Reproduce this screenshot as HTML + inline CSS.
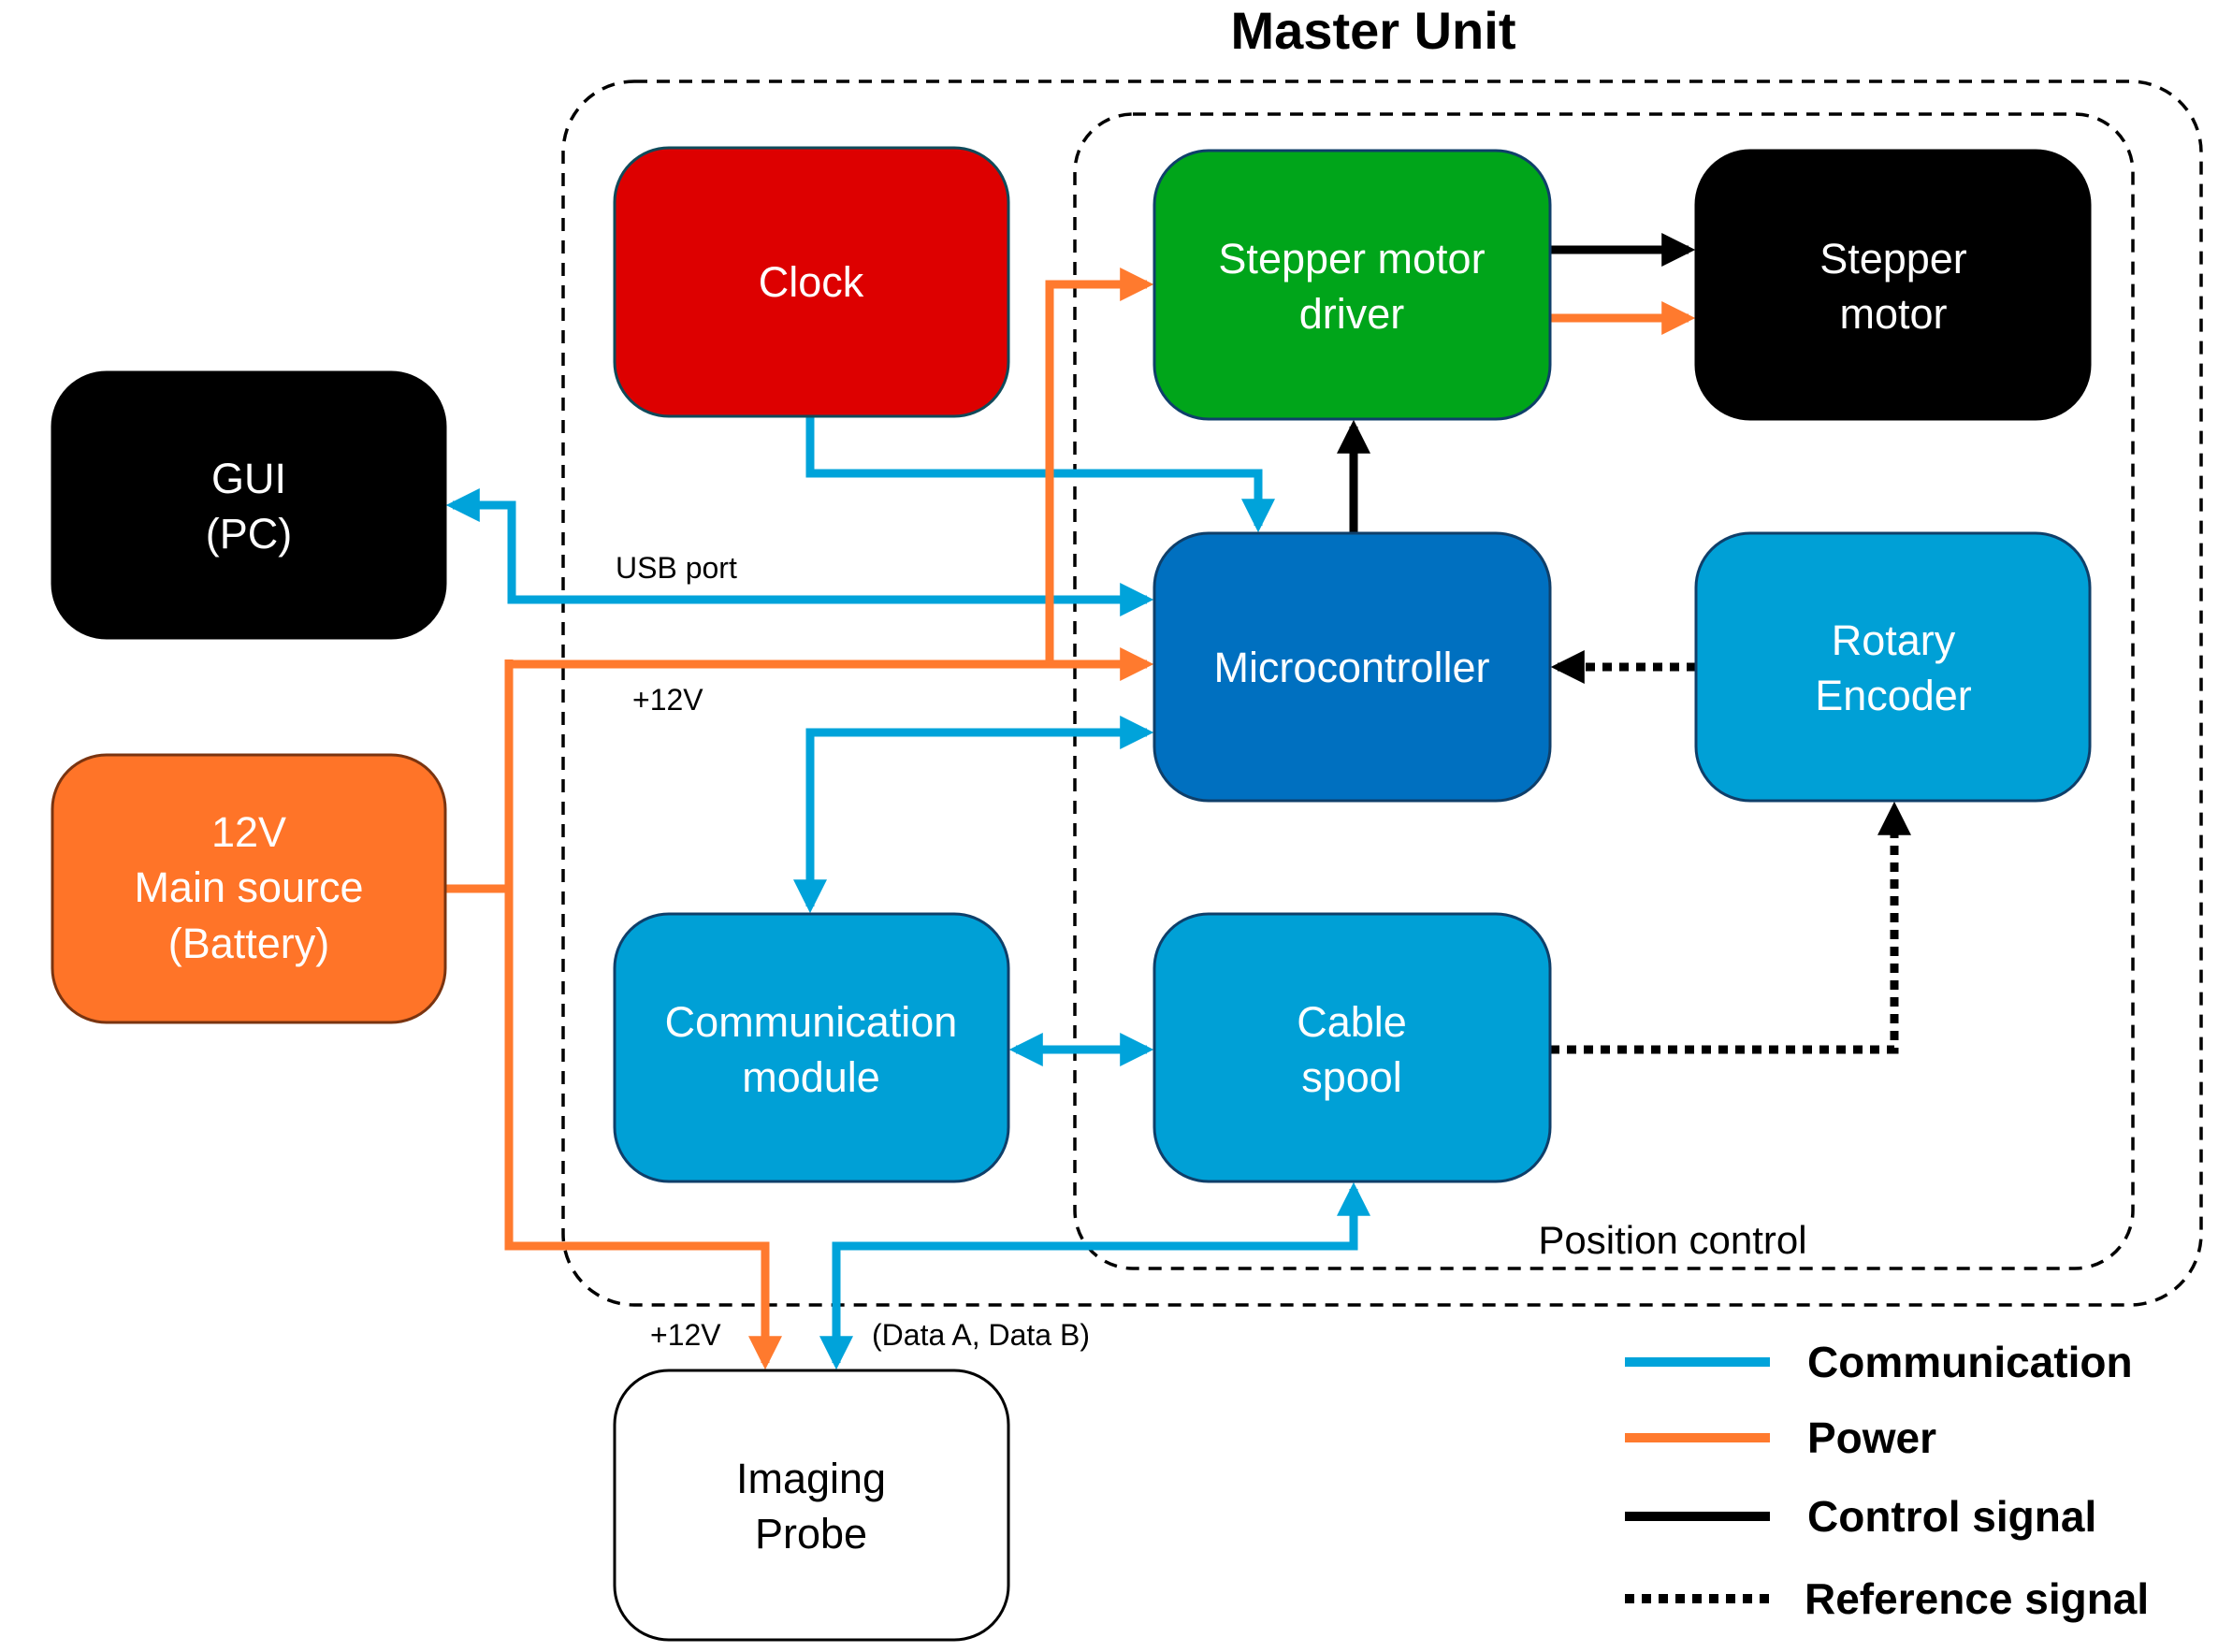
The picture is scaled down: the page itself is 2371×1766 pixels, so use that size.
<!DOCTYPE html>
<html><head><meta charset="utf-8"><style>
html,body{margin:0;padding:0;background:#fff;}
svg{display:block;font-family:"Liberation Sans",sans-serif;}
</style></head><body>
<svg width="2371" height="1766" viewBox="0 0 2371 1766" xmlns="http://www.w3.org/2000/svg">
<defs>
<marker id="ab" markerWidth="4" markerHeight="4" refX="3.2" refY="2" orient="auto" markerUnits="strokeWidth"><path d="M0,0 L4,2 L0,4 z" fill="#00A3DA"/></marker>
<marker id="abs" markerWidth="4" markerHeight="4" refX="0.8" refY="2" orient="auto" markerUnits="strokeWidth"><path d="M4,0 L0,2 L4,4 z" fill="#00A3DA"/></marker>
<marker id="ao" markerWidth="4" markerHeight="4" refX="3.2" refY="2" orient="auto" markerUnits="strokeWidth"><path d="M0,0 L4,2 L0,4 z" fill="#FF7A2E"/></marker>
<marker id="ak" markerWidth="4" markerHeight="4" refX="3.2" refY="2" orient="auto" markerUnits="strokeWidth"><path d="M0,0 L4,2 L0,4 z" fill="#000"/></marker>
</defs>
<text x="1468" y="52" font-size="56" font-weight="bold" text-anchor="middle">Master Unit</text>
<rect x="602" y="87" width="1751" height="1308" rx="76" fill="none" stroke="#000" stroke-width="3.5" stroke-dasharray="14,10"/>
<rect x="1149" y="122" width="1131" height="1234" rx="62" fill="none" stroke="#000" stroke-width="3.5" stroke-dasharray="14,10"/>
<text x="1788" y="1340" font-size="42" text-anchor="middle">Position control</text>

<g fill="none" stroke-width="9" stroke-linejoin="miter">
<polyline points="866,445 866,506 1345,506 1345,562" stroke="#00A3DA" marker-end="url(#ab)"/>
<polyline points="484,540 547,540 547,641 1226,641" stroke="#00A3DA" marker-end="url(#ab)" marker-start="url(#abs)"/>
<polyline points="1226,783 866,783 866,969" stroke="#00A3DA" marker-end="url(#ab)" marker-start="url(#abs)"/>
<line x1="1086" y1="1122" x2="1226" y2="1122" stroke="#00A3DA" marker-end="url(#ab)" marker-start="url(#abs)"/>
<polyline points="1447,1271 1447,1332 894,1332 894,1457" stroke="#00A3DA" marker-end="url(#ab)" marker-start="url(#abs)"/>
<polyline points="476,950 544,950" stroke="#FF7A2E"/>
<polyline points="544,710 1226,710" stroke="#FF7A2E" marker-end="url(#ao)"/>
<polyline points="544,705 544,1332 818,1332 818,1457" stroke="#FF7A2E" marker-end="url(#ao)"/>
<polyline points="1122,714 1122,304 1226,304" stroke="#FF7A2E" marker-end="url(#ao)"/>
<line x1="1657" y1="340" x2="1805" y2="340" stroke="#FF7A2E" marker-end="url(#ao)"/>
<line x1="1657" y1="267" x2="1805" y2="267" stroke="#000" marker-end="url(#ak)"/>
<line x1="1447" y1="570" x2="1447" y2="456" stroke="#000" marker-end="url(#ak)"/>
<line x1="1813" y1="713" x2="1665" y2="713" stroke="#000" stroke-dasharray="10,8" marker-end="url(#ak)"/>
<polyline points="1657,1122 2025,1122 2025,864" stroke="#000" stroke-dasharray="10,8" marker-end="url(#ak)"/>
</g>

<g stroke-width="3">
<rect x="657" y="158" width="421" height="287" rx="58" fill="#DD0000" stroke="#0F4A5A"/>
<rect x="56" y="398" width="420" height="284" rx="58" fill="#000" stroke="#000"/>
<rect x="56" y="807" width="420" height="286" rx="58" fill="#FF7428" stroke="#7A3410"/>
<rect x="1234" y="161" width="423" height="287" rx="58" fill="#00A51A" stroke="#0F3F6A"/>
<rect x="1813" y="161" width="421" height="287" rx="58" fill="#000" stroke="#000"/>
<rect x="1234" y="570" width="423" height="286" rx="58" fill="#0070C0" stroke="#0F3F6A"/>
<rect x="1813" y="570" width="421" height="286" rx="58" fill="#00A0D6" stroke="#0F3F6A"/>
<rect x="657" y="977" width="421" height="286" rx="58" fill="#00A0D6" stroke="#0F3F6A"/>
<rect x="1234" y="977" width="423" height="286" rx="58" fill="#00A0D6" stroke="#0F3F6A"/>
<rect x="657" y="1465" width="421" height="288" rx="58" fill="#fff" stroke="#000"/>
</g>

<g font-size="45" fill="#fff" text-anchor="middle">
<text x="867" y="317">Clock</text>
<text x="266" y="527">GUI</text><text x="266" y="586">(PC)</text>
<text x="266" y="905">12V</text><text x="266" y="964">Main source</text><text x="266" y="1024">(Battery)</text>
<text x="1445" y="292">Stepper motor</text><text x="1445" y="351">driver</text>
<text x="2024" y="292">Stepper</text><text x="2024" y="351">motor</text>
<text x="1445" y="729">Microcontroller</text>
<text x="2024" y="700">Rotary</text><text x="2024" y="759">Encoder</text>
<text x="867" y="1108">Communication</text><text x="867" y="1167">module</text>
<text x="1445" y="1108">Cable</text><text x="1445" y="1167">spool</text>
<text x="867" y="1596" fill="#000">Imaging</text><text x="867" y="1655" fill="#000">Probe</text>
</g>

<g font-size="32" fill="#000">
<text x="658" y="618">USB port</text>
<text x="676" y="759">+12V</text>
<text x="695" y="1438">+12V</text>
<text x="932" y="1438">(Data A, Data B)</text>
</g>

<g stroke-width="10">
<line x1="1737" y1="1456" x2="1892" y2="1456" stroke="#00A3DA"/>
<line x1="1737" y1="1537" x2="1892" y2="1537" stroke="#FF7A2E"/>
<line x1="1737" y1="1621" x2="1892" y2="1621" stroke="#000"/>
<line x1="1737" y1="1709" x2="1892" y2="1709" stroke="#000" stroke-dasharray="10,8"/>
</g>
<g font-size="46" font-weight="bold" fill="#000">
<text x="1932" y="1472">Communication</text>
<text x="1932" y="1553">Power</text>
<text x="1932" y="1637">Control signal</text>
<text x="1929" y="1725">Reference signal</text>
</g>
</svg>
</body></html>
